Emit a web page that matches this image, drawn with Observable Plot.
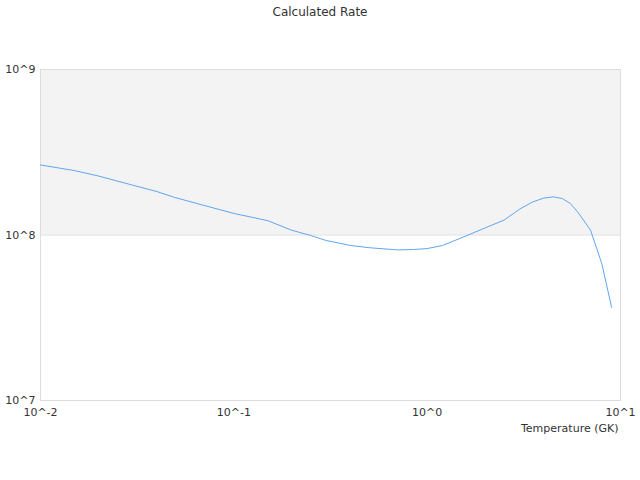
<!DOCTYPE html>
<html><head><meta charset="utf-8">
<script src="https://cdn.jsdelivr.net/npm/d3@7"></script>
<script src="https://cdn.jsdelivr.net/npm/@observablehq/plot@0.6"></script>
<style>
body{margin:0;background:#fff;font-family:"DejaVu Sans",sans-serif;}
#title{height:24px;line-height:24px;text-align:center;font-size:12px;color:#333;}
</style></head><body>
<div id="title">Calculated Rate</div>
<div id="chart"></div>
<script>
const temperature = [0.01,0.015,0.02,0.03,0.04,0.05,0.07,0.1,0.15,0.2,0.25,0.3,0.4,0.5,0.7,0.85,1.0,1.2,1.5,2,2.5,3,3.5,4,4.5,5,5.5,6,7,8,9];
const rate = [2.65e8,2.45e8,2.27e8,2.0e8,1.83e8,1.68e8,1.51e8,1.35e8,1.22e8,1.067e8,9.93e7,9.27e7,8.65e7,8.38e7,8.13e7,8.17e7,8.28e7,8.64e7,9.6e7,1.105e8,1.23e8,1.43e8,1.58e8,1.67e8,1.70e8,1.66e8,1.55e8,1.38e8,1.07e8,6.73e7,3.65e7];
const xTicks = [0.01,0.1,1,10];
const yTicks = [1e7,1e8,1e9];
const band = [{x1:0.01,x2:10,y1:1e8,y2:1e9}];

const data = temperature.map((t,i)=>({t, r: rate[i]}));
const fmt = v => "10^" + Math.round(Math.log10(v));

const chart = Plot.plot({
  width: 640, height: 456,
  marginTop: 45, marginBottom: 80, marginLeft: 40, marginRight: 20,
  style: {fontFamily: "DejaVu Sans, sans-serif", fontSize: "11px", color: "#333", background: "#fff"},
  x: {type: "log", domain: [0.01, 10]},
  y: {type: "log", domain: [1e7, 1e9]},
  marks: [
    Plot.rect(band, {x1:"x1", x2:"x2", y1:"y1", y2:"y2", fill:"#f3f3f3"}),
    Plot.ruleY([1e8], {stroke:"#dddddd"}),
    Plot.frame({stroke:"#dddddd"}),
    Plot.line(data, {x:"t", y:"r", stroke:"#5fa6f0", strokeWidth:1}),
    Plot.axisX(xTicks, {tickFormat: fmt, tickSize: 0, tickPadding: 8, label: null, fill:"#333"}),
    Plot.axisY(yTicks, {tickFormat: fmt, tickSize: 0, tickPadding: 5, label: null, fill:"#333"}),
    Plot.text(["Temperature (GK)"], {frameAnchor: "bottom-right", dy: 31, dx: -2, textAnchor: "end", fill:"#333", fontSize: 11})
  ]
});
document.getElementById("chart").appendChild(chart);
</script></body></html>
